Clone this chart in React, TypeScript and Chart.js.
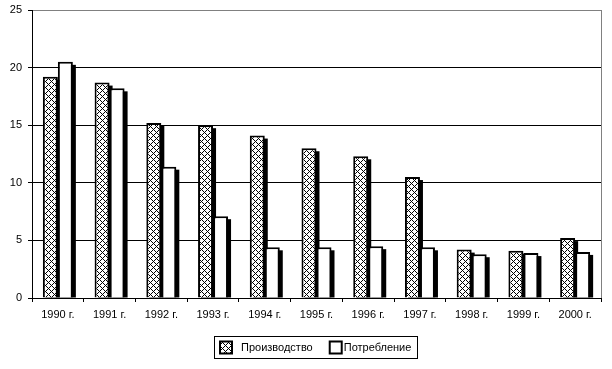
import React, { useEffect, useRef } from "react";
import { Chart, registerables } from "chart.js";

Chart.register(...registerables);

const categories = ["1990 г.", "1991 г.", "1992 г.", "1993 г.", "1994 г.", "1995 г.", "1996 г.", "1997 г.", "1998 г.", "1999 г.", "2000 г."];
const production = [19.2, 18.7, 15.2, 15.0, 14.1, 13.0, 12.3, 10.5, 4.2, 4.1, 5.2];
const consumption = [20.5, 18.2, 11.4, 7.1, 4.4, 4.4, 4.5, 4.4, 3.8, 3.9, 4.0];
const seriesNames = ["Производство", "Потребление"];
const yTicks = [0, 5, 10, 15, 20, 25];

const FONT = "'Liberation Sans', Arial, sans-serif";

function makePattern(): CanvasPattern | string {
  const n = 6;
  const c = document.createElement("canvas");
  c.width = n;
  c.height = n;
  const ctx = c.getContext("2d");
  if (!ctx) return "#fff";
  const img = ctx.createImageData(n, n);
  for (let i = 0; i < n * n; i++) {
    img.data[i * 4] = 255;
    img.data[i * 4 + 1] = 255;
    img.data[i * 4 + 2] = 255;
    img.data[i * 4 + 3] = 255;
  }
  const setBlack = (x: number, y: number) => {
    const k = (y * n + x) * 4;
    img.data[k] = 0;
    img.data[k + 1] = 0;
    img.data[k + 2] = 0;
  };
  for (let i = 0; i < n; i++) {
    setBlack(i, i);
    setBlack((n - i) % n, i);
  }
  ctx.putImageData(img, 0, 0);
  return ctx.createPattern(c, "repeat") || "#fff";
}

export default function App() {
  const ref = useRef<HTMLCanvasElement>(null);
  useEffect(() => {
    if (!ref.current) return;
    const pattern = makePattern();

    const shadowPlugin = {
      id: "barShadow",
      beforeDatasetsDraw(chart: any) {
        const ctx = chart.ctx;
        ctx.save();
        ctx.fillStyle = "#000";
        chart.data.datasets.forEach((_: any, di: number) => {
          const meta = chart.getDatasetMeta(di);
          meta.data.forEach((el: any) => {
            const w = el.width;
            const left = el.x - w / 2 + 3;
            const top = el.y + 3;
            const h = el.base - top;
            if (h > 0) ctx.fillRect(left, top, w, h);
          });
        });
        ctx.restore();
      },
    };

    const framePlugin = {
      id: "frameLegend",
      afterDraw(chart: any) {
        const ctx = chart.ctx;
        const a = chart.chartArea;
        ctx.save();
        ctx.strokeStyle = "#808080";
        ctx.lineWidth = 1;
        ctx.beginPath();
        ctx.moveTo(Math.round(a.right) + 0.5, a.top);
        ctx.lineTo(Math.round(a.right) + 0.5, a.bottom);
        ctx.stroke();

        ctx.font = `11px ${FONT}`;
        ctx.textBaseline = "middle";
        const w1 = ctx.measureText(seriesNames[0]).width;
        const w2 = ctx.measureText(seriesNames[1]).width;
        const pad = 6;
        const sw = 12;
        const gap = 9;
        const itemGap = 17;
        const total = pad + sw + gap + w1 + itemGap + sw + 2 + w2 + pad;
        const cx = 315.5;
        const left = Math.round(cx - total / 2);
        const top = 336;
        const h = 22;
        ctx.fillStyle = "#fff";
        ctx.fillRect(left, top, total, h);
        ctx.strokeStyle = "#000";
        ctx.lineWidth = 1;
        ctx.strokeRect(left + 0.5, top + 0.5, Math.round(total), h);
        const midY = top + h / 2 + 0.5;
        let x = left + pad;
        ctx.fillStyle = pattern as any;
        ctx.fillRect(x, midY - 6, sw, sw);
        ctx.lineWidth = 2;
        ctx.strokeRect(x, midY - 6, sw, sw);
        x += sw + gap;
        ctx.fillStyle = "#000";
        ctx.fillText(seriesNames[0], x, midY);
        x += w1 + itemGap;
        ctx.fillStyle = "#fff";
        ctx.fillRect(x, midY - 6, sw, sw);
        ctx.strokeRect(x, midY - 6, sw, sw);
        x += sw + 2;
        ctx.fillStyle = "#000";
        ctx.fillText(seriesNames[1], x, midY);
        ctx.restore();
      },
    };

    const chart = new Chart(ref.current, {
      type: "bar",
      data: {
        labels: categories,
        datasets: [
          {
            label: seriesNames[0],
            data: production,
            backgroundColor: pattern as any,
            borderColor: "#000",
            borderWidth: 2,
            categoryPercentage: 0.58,
            barPercentage: 1,
          },
          {
            label: seriesNames[1],
            data: consumption,
            backgroundColor: "#fff",
            borderColor: "#000",
            borderWidth: 2,
            categoryPercentage: 0.58,
            barPercentage: 1,
          },
        ],
      },
      options: {
        responsive: false,
        animation: false,
        devicePixelRatio: 1,
        layout: { padding: { left: 0, right: 11, top: 10, bottom: 41 } },
        plugins: {
          legend: { display: false },
          tooltip: { enabled: false },
        },
        scales: {
          x: {
            grid: {
              offset: true,
              drawOnChartArea: false,
              drawTicks: true,
              tickLength: 4,
              color: "#000",
              tickColor: "#000",
            },
            border: { color: "#000", width: 1 },
            ticks: {
              color: "#000",
              font: { family: FONT, size: 11 },
              padding: 6,
              maxRotation: 0,
              autoSkip: false,
            },
            afterFit(scale: any) {
              scale.height = 30;
            },
          },
          y: {
            min: 0,
            max: 25,
            afterBuildTicks(scale: any) {
              scale.ticks = yTicks.map((v) => ({ value: v }));
            },
            grid: {
              color: (c: any) => (c.tick && c.tick.value === 25 ? "#808080" : "#000"),
              tickColor: "#000",
              tickLength: 4,
              lineWidth: 1,
            },
            border: { color: "#000", width: 1 },
            ticks: {
              color: "#000",
              font: { family: FONT, size: 11, lineHeight: 1 },
              padding: 6,
            },
            afterFit(scale: any) {
              scale.width = 32;
              scale.paddingTop = 0;
              scale.paddingBottom = 0;
            },
          },
        },
      },
      plugins: [shadowPlugin, framePlugin],
    });
    return () => chart.destroy();
  }, []);

  return (
    <div style={{ position: "absolute", left: 0, top: 0, width: 612, height: 369, background: "#fff" }}>
      <canvas ref={ref} width={612} height={369} />
    </div>
  );
}
